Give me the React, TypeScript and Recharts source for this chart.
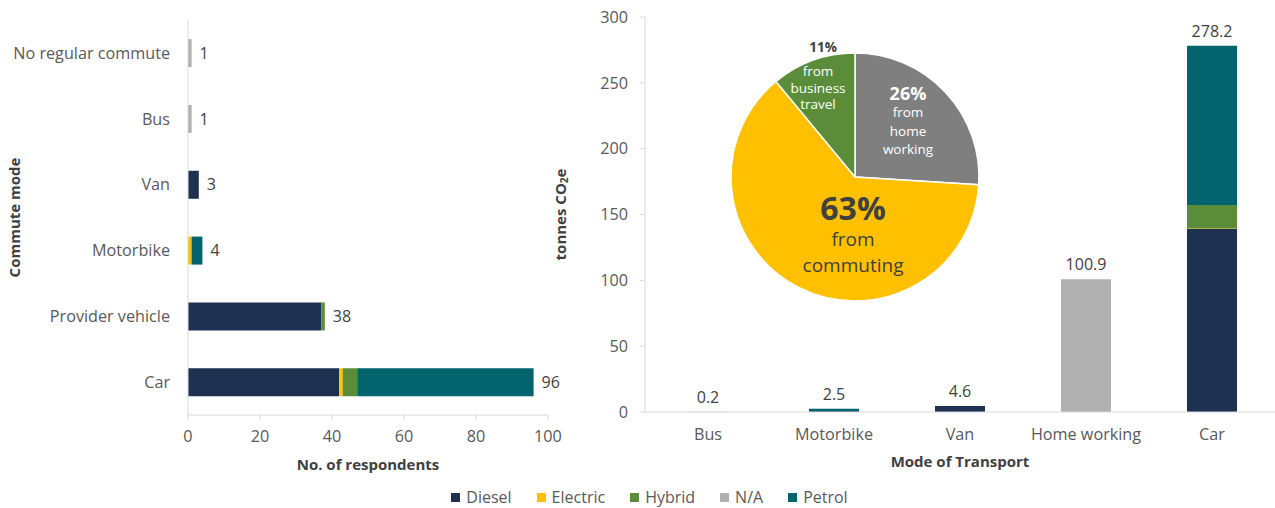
import { BarChart, Bar, XAxis, YAxis, LabelList, PieChart, Pie, Cell, Label } from "recharts";

const FONT = '"Open Sans", "Noto Sans", sans-serif';
const TEXT = "#595959";
const DARK = "#404040";
const GRID = "#D9D9D9";

// fuel types, shared by both bar charts and the legend
const fuelKeys = ["diesel", "electric", "hybrid", "na", "petrol"];
const fuelNames = ["Diesel", "Electric", "Hybrid", "N/A", "Petrol"];
const fuelColors = ["#1F3150", "#FFC000", "#5B8C3A", "#B0B0B0", "#03636F"];

// left: respondents by commute mode
const commuteModes = ["No regular commute", "Bus", "Van", "Motorbike", "Provider vehicle", "Car"];
const commuteDiesel = [0, 0, 3, 0, 37, 42];
const commuteElectric = [0, 0, 0, 1, 0, 1];
const commuteHybrid = [0, 0, 0, 0, 1, 4];
const commuteNA = [1, 1, 0, 0, 0, 0];
const commutePetrol = [0, 0, 0, 3, 0, 49];
const respondentTicks = [0, 20, 40, 60, 80, 100];

// right: tonnes CO2e by mode of transport
const transportModes = ["Bus", "Motorbike", "Van", "Home working", "Car"];
const co2Diesel = [0, 0, 4.6, 0, 138.9];
const co2Electric = [0, 0, 0, 0, 0.5];
const co2Hybrid = [0, 0, 0, 0, 17.8];
const co2NA = [0.2, 0, 0, 100.9, 0];
const co2Petrol = [0, 2.5, 0, 0, 121.0];
const co2Ticks = [0, 50, 100, 150, 200, 250, 300];

// inset pie: share of emissions
const shareNames = ["home working", "commuting", "business travel"];
const shareValues = [26, 63, 11];
const shareColors = ["#7F7F7F", "#FFC000", "#5B8C3A"];

// build rows; the total label goes on the last non-zero segment of each stack
const buildRows = (modes: string[], series: number[][], fmt: (v: number) => string) =>
  modes.map((mode, i) => {
    const row: any = { mode };
    let last = -1;
    fuelKeys.forEach((k, j) => {
      row[k] = series[j][i];
      if (series[j][i] > 0) last = j;
    });
    const total = fmt(series.reduce((s, arr) => s + arr[i], 0));
    fuelKeys.forEach((k, j) => (row[`lab_${k}`] = j === last ? total : ""));
    return row;
  });

const commuteData = buildRows(
  commuteModes,
  [commuteDiesel, commuteElectric, commuteHybrid, commuteNA, commutePetrol],
  (v) => String(v)
);
const co2Data = buildRows(
  transportModes,
  [co2Diesel, co2Electric, co2Hybrid, co2NA, co2Petrol],
  (v) => v.toFixed(1)
);

const shareData = shareNames.map((name, i) => ({ name, value: shareValues[i] }));

// text placement inside the pie, offsets from the pie centre
const shareLabelLayout = [
  { head: [53, -84], headSize: 18, headColor: "#fff", lines: ["from", "home", "working"], lx: 53, ly: -65, step: 18.5, size: 13.5, color: "#fff" },
  { head: [-2, 30], headSize: 32, headColor: DARK, lines: ["from", "commuting"], lx: -2, ly: 62, step: 26, size: 19, color: DARK },
  { head: [-32, -130], headSize: 13.5, headColor: DARK, lines: ["from", "business", "travel"], lx: -37, ly: -106, step: 16.5, size: 13.5, color: "#fff" },
];

const renderShareLabel = (props: any) => {
  const { cx, cy, index } = props;
  const l = shareLabelLayout[index];
  return (
    <g key={`share-${index}`} fontFamily={FONT}>
      <text x={cx + l.head[0]} y={cy + l.head[1]} textAnchor="middle" dominantBaseline="central" fontWeight={700} fontSize={l.headSize} fill={l.headColor}>
        {shareValues[index]}%
      </text>
      {l.lines.map((t, k) => (
        <text key={k} x={cx + l.lx} y={cy + l.ly + k * l.step} textAnchor="middle" dominantBaseline="central" fontSize={l.size} fill={l.color}>
          {t}
        </text>
      ))}
    </g>
  );
};

const xTitle = (title: string, dy: number) => (props: any) => {
  const { x, y, width } = props.viewBox;
  return (
    <text x={x + width / 2} y={y + dy} textAnchor="middle" dominantBaseline="central" fontFamily={FONT} fontWeight={700} fontSize={15} fill={DARK}>
      {title}
    </text>
  );
};

const CommuteTitle = (props: any) => {
  const { y, height } = props.viewBox;
  const cx = 14;
  const cy = y + height / 2;
  return (
    <text x={cx} y={cy} transform={`rotate(-90, ${cx}, ${cy})`} textAnchor="middle" dominantBaseline="central" fontFamily={FONT} fontWeight={700} fontSize={15} fill={DARK}>
      Commute mode
    </text>
  );
};

const Co2Title = (props: any) => {
  const { y, height } = props.viewBox;
  const cx = 20;
  const cy = y + height / 2;
  return (
    <text x={cx} y={cy} transform={`rotate(-90, ${cx}, ${cy})`} textAnchor="middle" dominantBaseline="central" fontFamily={FONT} fontWeight={700} fontSize={15} fill={DARK}>
      <tspan>tonnes CO</tspan>
      <tspan dy={4} fontSize={10}>2</tspan>
      <tspan dy={-4}>e</tspan>
    </text>
  );
};

export default function App() {
  const tick = { fontFamily: FONT, fontSize: 16.2, fill: TEXT };
  const labelStyle = { fontFamily: FONT, fontSize: 16, fill: DARK };
  return (
    <div style={{ position: "absolute", left: 0, top: 0, width: 1275, height: 508, background: "#fff", fontFamily: FONT }}>
      <div style={{ position: "absolute", left: 0, top: 0 }}>
        <BarChart width={580} height={480} data={commuteData} layout="vertical" margin={{ top: 20, right: 32, left: 0, bottom: 10 }} barCategoryGap="29%">
          <XAxis type="number" domain={[0, 100]} ticks={respondentTicks} height={55} tick={tick} tickSize={5} tickMargin={10} axisLine={{ stroke: GRID }} tickLine={{ stroke: GRID }}>
            <Label content={xTitle("No. of respondents", 49)} />
          </XAxis>
          <YAxis type="category" dataKey="mode" width={188} tick={tick} tickLine={false} tickMargin={12} axisLine={{ stroke: GRID }}>
            <Label content={CommuteTitle} />
          </YAxis>
          {fuelKeys.map((k, j) => (
            <Bar key={k} dataKey={k} name={fuelNames[j]} stackId="a" fill={fuelColors[j]} isAnimationActive={false}>
              <LabelList dataKey={`lab_${k}`} position="right" offset={8} style={labelStyle} />
            </Bar>
          ))}
        </BarChart>
      </div>

      <div style={{ position: "absolute", left: 540, top: 0 }}>
        <BarChart width={735} height={480} data={co2Data} margin={{ top: 17, right: 0, left: 0, bottom: 10 }} barSize={50}>
          <XAxis dataKey="mode" height={58} tick={tick} tickLine={false} tickMargin={10} axisLine={{ stroke: GRID }}>
            <Label content={xTitle("Mode of Transport", 49)} />
          </XAxis>
          <YAxis type="number" domain={[0, 300]} ticks={co2Ticks} width={105} tick={tick} tickSize={5} tickMargin={12} axisLine={{ stroke: GRID }} tickLine={{ stroke: GRID }}>
            <Label content={Co2Title} />
          </YAxis>
          {fuelKeys.map((k, j) => (
            <Bar key={k} dataKey={k} name={fuelNames[j]} stackId="a" fill={fuelColors[j]} isAnimationActive={false}>
              <LabelList dataKey={`lab_${k}`} position="top" offset={9} style={labelStyle} />
            </Bar>
          ))}
        </BarChart>
      </div>

      <div style={{ position: "absolute", left: 720, top: 25 }}>
        <PieChart width={270} height={285}>
          <Pie
            data={shareData}
            dataKey="value"
            nameKey="name"
            cx={130}
            cy={147}
            outerRadius={124}
            startAngle={90}
            endAngle={-270}
            stroke="#fff"
            strokeWidth={1.5}
            labelLine={false}
            label={renderShareLabel}
            isAnimationActive={false}
          >
            {shareData.map((d, i) => (
              <Cell key={d.name} fill={shareColors[i]} />
            ))}
          </Pie>
        </PieChart>
      </div>

      <div style={{ position: "absolute", left: 0, top: 486, width: 1275, paddingLeft: 24, boxSizing: "border-box", display: "flex", justifyContent: "center", gap: 25, fontSize: 16, color: TEXT }}>
        {fuelNames.map((n, j) => (
          <div key={n} style={{ display: "flex", alignItems: "center", gap: 6 }}>
            <span style={{ width: 9, height: 9, background: fuelColors[j], display: "inline-block" }} />
            <span>{n}</span>
          </div>
        ))}
      </div>
    </div>
  );
}
